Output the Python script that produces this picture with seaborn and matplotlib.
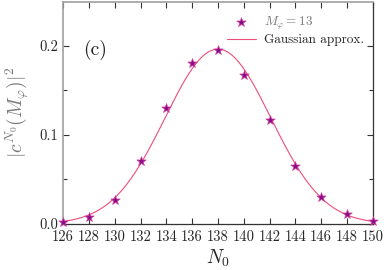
import numpy as np
import pandas as pd
import matplotlib
matplotlib.use("Agg")
import matplotlib.pyplot as plt
import seaborn as sns

# data
n0_values = [126, 128, 130, 132, 134, 136, 138, 140, 142, 144, 146, 148, 150]
prob_values = [0.002, 0.0075, 0.027, 0.070, 0.130, 0.180, 0.195, 0.167, 0.116, 0.065, 0.030, 0.011, 0.003]
gauss_mu = 138.0
gauss_sigma = 4.1
gauss_amp = 0.196
x_ticks = [126, 128, 130, 132, 134, 136, 138, 140, 142, 144, 146, 148, 150]
y_ticks = [0.0, 0.1, 0.2]

sns.set_style("ticks")
plt.rcParams["font.family"] = "serif"
plt.rcParams["font.serif"] = ["cmr10", "DejaVu Serif"]
plt.rcParams["mathtext.fontset"] = "cm"
plt.rcParams["axes.formatter.use_mathtext"] = True

fig = plt.figure(figsize=(3.92, 2.70), dpi=100)
ax = fig.add_axes([0.161, 0.171, 0.790, 0.822])

xs = np.linspace(126, 150, 300)
curve = pd.DataFrame({"N0": xs, "p": gauss_amp * np.exp(-(xs - gauss_mu) ** 2 / (2 * gauss_sigma ** 2))})
pts = pd.DataFrame({"N0": n0_values, "p": prob_values})

sns.lineplot(data=curve, x="N0", y="p", ax=ax, color="#ee4d7a", lw=0.8,
             label="Gaussian approx.", zorder=2)
sns.scatterplot(data=pts, x="N0", y="p", ax=ax, marker="*", s=50, color="#8a0c8a",
                edgecolor="#d0409a", linewidth=0.5, label=r"$M_\varphi = 13$",
                zorder=3, clip_on=False)

ax.set_xlim(126, 150)
ax.set_ylim(0, 0.249)
ax.set_xticks(x_ticks)
ax.set_xticklabels([str(t) for t in x_ticks])
ax.set_yticks(y_ticks)
ax.set_yticklabels(["0.0", "0.1", "0.2"])
ax.set_yticks([0.05, 0.15], minor=True)
ax.tick_params(axis="both", which="both", direction="in", labelsize=10.5,
               top=True, right=True, length=4, width=0.8, color="#333333")
ax.tick_params(axis="y", which="minor", length=3)
ax.tick_params(axis="x", pad=5)

for side in ["left", "top"]:
    ax.spines[side].set_color("#a0a0a0")
    ax.spines[side].set_linewidth(1.2)
for side in ["bottom", "right"]:
    ax.spines[side].set_color("#333333")
    ax.spines[side].set_linewidth(0.9)

ax.set_xlabel(r"$N_0$", fontsize=14, labelpad=2)
ax.set_ylabel(r"$|c^{N_0}(M_\varphi)|^2$", fontsize=14, color="#777777", labelpad=6)

ax.text(0.065, 0.76, "(c)", transform=ax.transAxes, fontsize=14, color="#222222")

handles, labels = ax.get_legend_handles_labels()
order = [1, 0]
leg = ax.legend([handles[i] for i in order], [labels[i] for i in order],
                loc="upper right", bbox_to_anchor=(1.0, 0.985), frameon=False,
                fontsize=9.5, handlelength=2.2, handletextpad=0.6, borderaxespad=0.3,
                labelspacing=0.2)
leg.get_texts()[0].set_color("#777777")

fig.savefig("out.png", dpi=100)
